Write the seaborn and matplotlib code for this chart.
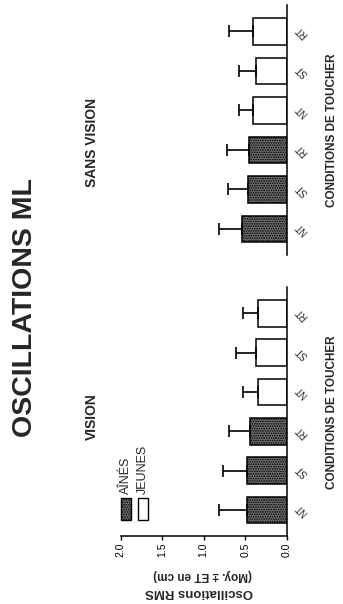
import numpy as np
import pandas as pd
import matplotlib
matplotlib.use("Agg")
import matplotlib.pyplot as plt
from matplotlib.patches import Rectangle
import seaborn as sns

# Touch conditions and age groups
conditions = ["NT", "ST", "RT"]
groups = ["AÎNÉS", "JEUNES"]

# Mediolateral RMS sway (mean and SD, cm) -- with vision
vision_aines_mean = [0.48, 0.48, 0.44]
vision_aines_sd = [0.33, 0.29, 0.25]
vision_jeunes_mean = [0.35, 0.37, 0.35]
vision_jeunes_sd = [0.18, 0.24, 0.18]

# ... and without vision
sans_aines_mean = [0.54, 0.47, 0.46]
sans_aines_sd = [0.27, 0.24, 0.26]
sans_jeunes_mean = [0.41, 0.37, 0.41]
sans_jeunes_sd = [0.17, 0.20, 0.28]

value_ticks = [0.0, 0.5, 1.0, 1.5, 2.0]
value_tick_labels = ["0.0", "0.5", "1.0", "1.5", "2.0"]

W, H = 343, 604
sns.set_theme(style="white")
plt.rcParams["font.family"] = ["Liberation Sans", "DejaVu Sans"]
plt.rcParams["hatch.linewidth"] = 0.8

fig = plt.figure(figsize=(W / 100, H / 100), dpi=100)


def box(x0, y0, x1, y1):
    """Pixel box (origin top-left) -> figure rectangle."""
    return [x0 / W, 1 - y1 / H, (x1 - x0) / W, (y1 - y0) / H]


def fxy(x, y):
    return x / W, 1 - y / H


def panel_frame(aines_m, aines_s, jeunes_m, jeunes_s):
    slots = [f"{g}|{c}" for g in groups for c in conditions]
    return pd.DataFrame({
        "slot": slots,
        "groupe": [g for g in groups for _ in conditions],
        "moyenne": list(aines_m) + list(jeunes_m),
        "et": list(aines_s) + list(jeunes_s),
    })


palette = {"AÎNÉS": "#6e6e6e", "JEUNES": "white"}
STIPPLE = "......."


def draw_panel(ax, df):
    sns.barplot(data=df, x="moyenne", y="slot", hue="groupe", orient="h",
                dodge=False, palette=palette, edgecolor="black", linewidth=1.1,
                width=0.68, legend=False, errorbar=None, ax=ax)
    for patch in ax.patches:
        if patch.get_facecolor()[0] < 0.9:
            patch.set_hatch(STIPPLE)
    pos = np.arange(len(df))
    ax.errorbar(df["moyenne"], pos, xerr=[np.zeros(len(df)), df["et"]],
                fmt="none", ecolor="black", elinewidth=1.2, capsize=4.5,
                capthick=1.2)
    ax.set_xlim(2.0, 0.0)
    ax.set_ylim(-0.66, len(df) - 0.33)
    ax.yaxis.tick_right()
    ax.set_yticks(pos)
    ax.set_yticklabels([c for _ in groups for c in conditions], rotation=135,
                       ha="center", va="center", fontsize=7)
    ax.tick_params(axis="y", length=0, pad=11, right=True, left=False)
    ax.set_xlabel("")
    ax.set_ylabel("")
    for s in ["top", "left"]:
        ax.spines[s].set_visible(False)
    ax.spines["right"].set_color("black")
    ax.spines["right"].set_linewidth(1.1)


# Left (with vision) panel, carries the value axis
ax_v = fig.add_axes(box(120.7, 287, 286.7, 536))
draw_panel(ax_v, panel_frame(vision_aines_mean, vision_aines_sd,
                             vision_jeunes_mean, vision_jeunes_sd))
ax_v.set_xticks(value_ticks)
ax_v.set_xticklabels(value_tick_labels, rotation=90, fontsize=7.5)
ax_v.tick_params(axis="x", bottom=True, direction="out", length=3, width=1,
                 pad=2, colors="black")
ax_v.spines["bottom"].set_color("black")
ax_v.spines["bottom"].set_linewidth(1.1)

# Right (without vision) panel
ax_s = fig.add_axes(box(120.7, 5, 286.7, 255))
draw_panel(ax_s, panel_frame(sans_aines_mean, sans_aines_sd,
                             sans_jeunes_mean, sans_jeunes_sd))
ax_s.set_xticks([])
ax_s.spines["bottom"].set_visible(False)

# Titles and labels
fig.text(*fxy(25, 308), "OSCILLATIONS ML", rotation=90, ha="center",
         va="center", fontsize=20.5, fontweight="bold")
fig.text(*fxy(92, 417), "VISION", rotation=90, ha="center", va="center",
         fontsize=10, fontweight="bold")
fig.text(*fxy(92, 143), "SANS VISION", rotation=90, ha="center", va="center",
         fontsize=10, fontweight="bold")
for yc in (412, 130):
    fig.text(*fxy(332, yc), "CONDITIONS DE TOUCHER", rotation=90,
             ha="center", va="center", fontsize=8.5, fontweight="bold")
fig.text(*fxy(203, 575), "(Moy. ± ET en cm)", rotation=180, ha="center",
         va="center", fontsize=8.5, fontweight="bold")
fig.text(*fxy(199, 592), "Oscillations RMS", rotation=180, ha="center",
         va="center", fontsize=9.5, fontweight="bold")

# Legend
for (x0, x1), g in zip([(120.7, 130.7), (138.3, 148.3)], groups):
    r = box(x0, 498, x1, 520)
    rect = Rectangle((r[0], r[1]), r[2], r[3], transform=fig.transFigure,
                     facecolor=palette[g], edgecolor="black", linewidth=1.0,
                     hatch=STIPPLE if g == groups[0] else None)
    fig.add_artist(rect)
    fig.text(*fxy((x0 + x1) / 2, 494), g, rotation=90, ha="center",
             va="bottom", fontsize=9)

fig.savefig("out.png", dpi=100)
